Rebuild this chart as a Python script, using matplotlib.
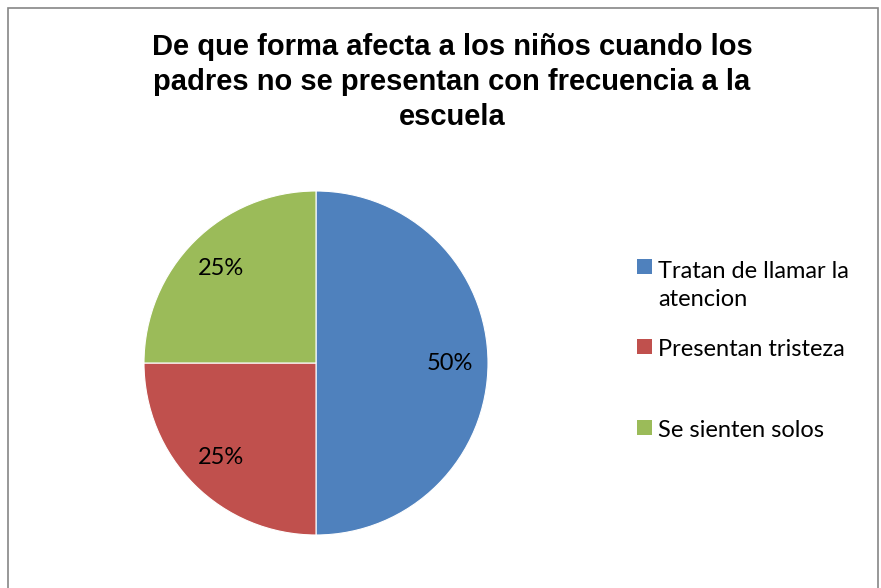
import matplotlib.pyplot as plt
from matplotlib.patches import Rectangle

# datos
categorias = ["Tratan de llamar la\natencion", "Presentan tristeza", "Se sienten solos"]
valores = [50, 25, 25]
colores = ["#4F81BD", "#C0504D", "#9BBB59"]
titulo = "De que forma afecta a los niños cuando los\npadres no se presentan con frecuencia a la\nescuela"

fig = plt.figure(figsize=(8.81, 5.88), dpi=100)

# marco gris del grafico
fig.patches.append(Rectangle((8 / 881, -0.05), 870 / 881, 1 - 8 / 588 + 0.05,
                             transform=fig.transFigure, fill=False,
                             edgecolor="#868686", linewidth=1.2))

fig.text(452 / 881, 1 - 82 / 588, titulo, ha="center", va="center",
         fontsize=21, fontweight="bold", family="Liberation Sans",
         linespacing=1.32)

ax = fig.add_axes([144 / 881, 1 - 535 / 588, 344 / 881, 344 / 588])
wedges, textos, autotextos = ax.pie(valores, colors=colores, startangle=90,
                                    counterclock=False, autopct="%d%%",
                                    pctdistance=0.78,
                                    wedgeprops=dict(edgecolor="white", linewidth=0.8),
                                    textprops=dict(fontsize=17, family="Lato"))
ax.set_xlim(-1, 1)
ax.set_ylim(-1, 1)
ax.set_aspect("equal")

# leyenda a mano (posiciones como en la original)
ys = [266.5, 346.5, 427.5]
for y, lab, c in zip(ys, categorias, colores):
    fig.patches.append(Rectangle((637 / 881, 1 - (y + 7.5) / 588), 15 / 881, 15 / 588,
                                 transform=fig.transFigure, facecolor=c, edgecolor="none"))
    extra = 30 * lab.count("\n")
    fig.text(658 / 881, 1 - (y + 9.5 + extra) / 588, lab, ha="left", va="baseline",
             fontsize=17, family="Lato", linespacing=1.42)

fig.savefig("out.png", dpi=100)
